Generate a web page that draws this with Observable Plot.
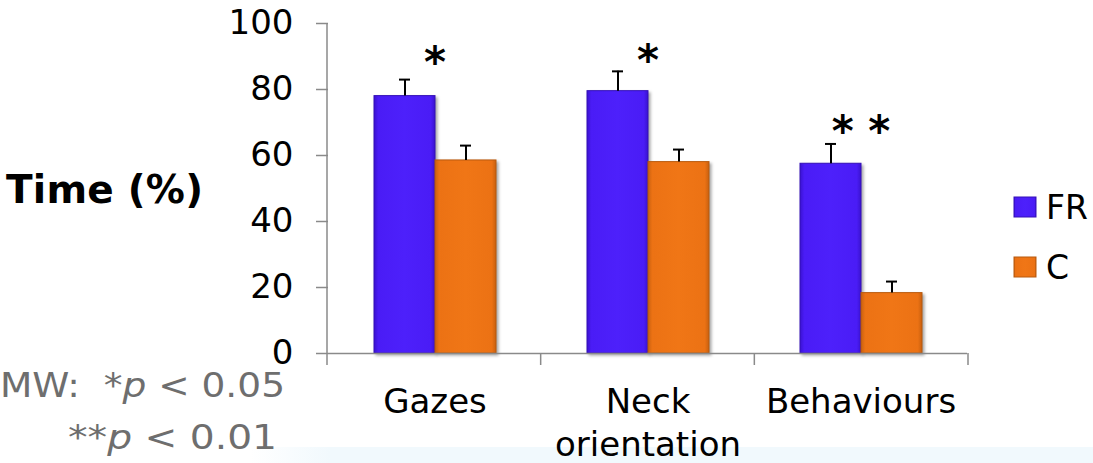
<!DOCTYPE html>
<html><head><meta charset="utf-8">
<script src="https://cdn.jsdelivr.net/npm/d3@7"></script>
<script src="https://cdn.jsdelivr.net/npm/@observablehq/plot@0.6"></script>
<style>
body{margin:0;background:#fff;}
#wrap{position:relative;width:1093px;height:463px;overflow:hidden;font-family:"DejaVu Sans",sans-serif;}
#band{position:absolute;left:250px;top:447px;width:843px;height:16px;background:linear-gradient(to right, rgba(240,249,253,0), #f1f9fd 80px);}
#chart{position:absolute;left:0;top:0;}
#overlay{position:absolute;left:0;top:0;}
</style></head>
<body><div id="wrap"><div id="band"></div><div id="chart"></div></div>
<script>
const categories = ["Gazes", "Neck orientation", "Behaviours"];
const categoryLabels = ["Gazes", "Neck\norientation", "Behaviours"];
const series = ["FR", "C"];
const frValues = [78, 79.5, 57.5];
const cValues = [58.5, 58, 18.3];
const frErrors = [5, 6, 6];
const cErrors = [4.5, 3.8, 3.5];
const sigLabels = ["*", "*", "* *"];
const sigY = [88, 88.5, 67];
const yTicks = [0, 20, 40, 60, 80, 100];
const legendLabels = ["FR", "C"];

const rows = [];
categories.forEach((c, i) => {
  rows.push({category: c, series: "FR", value: frValues[i], err: frErrors[i]});
  rows.push({category: c, series: "C", value: cValues[i], err: cErrors[i]});
});
const sig = categories.map((c, i) => ({category: c, label: sigLabels[i], y: sigY[i]}));

const plot = Plot.plot({
  width: 1093, height: 463,
  marginLeft: 327, marginRight: 125, marginTop: 23, marginBottom: 110,
  style: {background: "transparent", fontFamily: "DejaVu Sans, sans-serif", overflow: "visible", color: "black"},
  fx: {domain: categories, paddingInner: 0, paddingOuter: 0, label: null},
  x: {domain: series, paddingInner: 0, paddingOuter: 0.72, axis: null},
  y: {domain: [0, 100], label: null},
  marks: [
    Plot.barY(rows.filter(d => d.series === "FR"), {fx: "category", x: "series", y: "value", fill: "url(#gradFR)", stroke: "#3410b8", strokeWidth: 1}),
    Plot.barY(rows.filter(d => d.series === "C"), {fx: "category", x: "series", y: "value", fill: "url(#gradC)", stroke: "#b85a0e", strokeWidth: 1}),
    Plot.ruleY([0], {stroke: "#8a8a8a", strokeWidth: 1.5}),
    Plot.ruleX(rows, {fx: "category", x: "series", y1: "value", y2: d => d.value + d.err, stroke: "black", strokeWidth: 2}),
    Plot.tickY(rows, {fx: "category", x: "series", y: d => d.value + d.err, stroke: "black", strokeWidth: 2, insetLeft: 25, insetRight: 25}),
    Plot.text(sig, {fx: "category", y: "y", text: "label", fontSize: 42, fontWeight: "bold", fill: "black"}),
    Plot.axisY({ticks: yTicks, tickSize: 12, tickPadding: 23, fontSize: 34, stroke: "#8a8a8a", strokeWidth: 1.5, fill: "black", label: null}),
    Plot.axisFx({anchor: "bottom", tickSize: 0, tickPadding: 30, fontSize: 34, lineHeight: 1.24, fill: "black",
      tickFormat: d => categoryLabels[categories.indexOf(d)], label: null})
  ]
});
document.getElementById("chart").appendChild(plot);

const svg = d3.select(plot);
const defs = svg.insert("defs", ":first-child");
function grad(id, edge, main, light) {
  const g = defs.append("linearGradient").attr("id", id).attr("x1", 0).attr("x2", 1).attr("y1", 0).attr("y2", 0);
  g.append("stop").attr("offset", "0%").attr("stop-color", edge);
  g.append("stop").attr("offset", "7%").attr("stop-color", main);
  g.append("stop").attr("offset", "50%").attr("stop-color", light);
  g.append("stop").attr("offset", "93%").attr("stop-color", main);
  g.append("stop").attr("offset", "100%").attr("stop-color", edge);
}
grad("gradFR", "#3a12d0", "#4a1cf6", "#4d20fb");
grad("gradC", "#c9600f", "#ec7214", "#f07616");
svg.selectAll('g[aria-label="bar"] rect').style("filter", "drop-shadow(2px 2px 1.5px rgba(0,0,0,0.35))");

// axis line and category boundary ticks, from the library's scales
const fx = plot.scale("fx"), ys = plot.scale("y");
const band = d3.scaleBand(fx.domain, fx.range).paddingInner(0).paddingOuter(0);
const bounds = categories.map(c => band(c)).concat([band(categories[categories.length - 1]) + band.bandwidth()]);
const y0 = ys.apply(0), y100 = ys.apply(100);
const ax = svg.append("g").attr("stroke", "#8a8a8a").attr("stroke-width", 1.5);
ax.append("line").attr("x1", bounds[0]).attr("x2", bounds[0]).attr("y1", y100).attr("y2", y0);
bounds.forEach(b => ax.append("line").attr("x1", b).attr("x2", b).attr("y1", y0).attr("y2", y0 + 12));

// overlay: y label, legend, footnote
const ov = d3.select("#wrap").append("svg").attr("id", "overlay").attr("width", 1093).attr("height", 463)
  .attr("font-family", "DejaVu Sans, sans-serif");
ov.append("text").attr("x", 6).attr("y", 203).attr("font-size", 39).attr("font-weight", "bold")
  .attr("textLength", 197).text("Time (%)");
const legendColors = ["url(#gradFR)", "url(#gradC)"];
const legendStroke = ["#3410b8", "#b85a0e"];
legendLabels.forEach((l, i) => {
  const yy = [197, 257][i];
  ov.append("rect").attr("x", 1014).attr("y", yy).attr("width", 22).attr("height", 20)
    .attr("fill", legendColors[i]).attr("stroke", legendStroke[i]).attr("stroke-width", 1);
  ov.append("text").attr("x", 1046).attr("y", yy + 22).attr("font-size", 33).text(l);
});
const n1 = ov.append("text").attr("x", 0).attr("y", 397).attr("font-size", 33).attr("fill", "#6e6e6e")
  .attr("xml:space", "preserve").attr("textLength", 285).attr("lengthAdjust", "spacingAndGlyphs");
n1.append("tspan").text("MW:  *");
n1.append("tspan").attr("font-style", "italic").text("p");
n1.append("tspan").text(" < 0.05");
const n2 = ov.append("text").attr("x", 68).attr("y", 449).attr("font-size", 33).attr("fill", "#6e6e6e")
  .attr("xml:space", "preserve").attr("textLength", 209).attr("lengthAdjust", "spacingAndGlyphs");
n2.append("tspan").text("**");
n2.append("tspan").attr("font-style", "italic").text("p");
n2.append("tspan").text(" < 0.01");
</script></body></html>
